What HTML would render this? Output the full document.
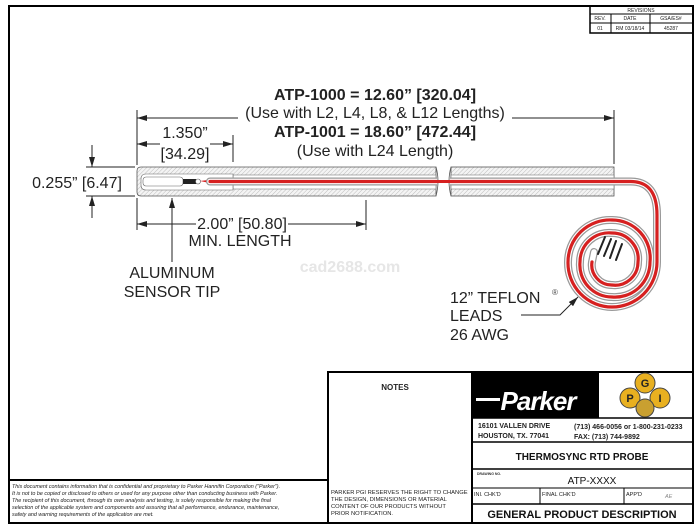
<!DOCTYPE html>
<html><head><meta charset="utf-8"><style>
html,body{margin:0;padding:0;background:#fff}
svg{display:block;font-family:"Liberation Sans",Arial,sans-serif}
</style></head><body>
<svg width="700" height="529" viewBox="0 0 700 529" xmlns="http://www.w3.org/2000/svg">
<defs>
<pattern id="h" width="3" height="3" patternUnits="userSpaceOnUse" patternTransform="rotate(45)">
<rect width="3" height="3" fill="#f4f4f4"/><line x1="0" y1="0" x2="0" y2="3" stroke="#bdbdbd" stroke-width="1"/></pattern>
<marker id="a" viewBox="0 0 10 6" refX="10" refY="3" markerWidth="10" markerHeight="6" orient="auto-start-reverse" markerUnits="userSpaceOnUse"><path d="M0,0L10,3L0,6z" fill="#222"/></marker>
</defs>
<rect width="700" height="529" fill="#fff"/>
<rect x="9" y="6" width="684" height="517" fill="none" stroke="#000" stroke-width="2"/>
<g stroke="#000" stroke-width="1" fill="none">
<rect x="590" y="6" width="103" height="27" stroke-width="1.5"/>
<line x1="590" y1="14" x2="693" y2="14"/><line x1="590" y1="23" x2="693" y2="23"/>
<line x1="611" y1="14" x2="611" y2="33"/><line x1="650" y1="14" x2="650" y2="33"/>
</g>
<g font-size="5" text-anchor="middle" fill="#222">
<text x="641" y="12">REVISIONS</text><text x="600" y="20">REV.</text><text x="630" y="20">DATE</text><text x="671" y="20">GSA/ES#</text>
<text x="600" y="30">01</text><text x="630" y="30">RM 03/18/14</text><text x="671" y="30">45287</text></g>

<path d="M141,167 H436 V196 H141 Q137,196 137,192 V171 Q137,167 141,167z" fill="url(#h)" stroke="#555" stroke-width="0.8"/>
<rect x="451" y="167" width="163" height="29" fill="url(#h)" stroke="#555" stroke-width="0.8"/>
<path d="M233,175 H436 V189 H233z" fill="#fff" stroke="#666" stroke-width="0.6"/>
<path d="M451,175 H614 V189 H451z" fill="#fff" stroke="#666" stroke-width="0.6"/>
<path d="M146,174 H233 V190 H146 Q141,190 141,185 V179 Q141,174 146,174z" fill="#fff" stroke="#666" stroke-width="0.6"/>
<rect x="143" y="177" width="40" height="9" rx="3" fill="#fff" stroke="#666" stroke-width="0.6"/>
<rect x="183" y="179" width="13" height="5" fill="#222"/>
<circle cx="198" cy="181.5" r="2.5" fill="#fff" stroke="#555" stroke-width="0.6"/>
<path d="M200,181 L212,179.5 V183.5z" fill="#d62020"/>
<g fill="none" stroke-linecap="round">
<g id="w">
<path id="wp" d="M210,181.5 H630 Q657,181 657,215 L657,262 A45,45 0 0 1 612,307 A44,44 0 0 1 568,262 A42,42 0 0 1 612,220 A38,38 0 0 1 650,262 A35,35 0 0 1 612,297 A32,32 0 0 1 580,262 A29,29 0 0 1 612,233 A26,26 0 0 1 638,262 A23,23 0 0 1 612,285 A20,20 0 0 1 592,262 L594,252" stroke="#999" stroke-width="8"/>
</g>
<path d="M210,181.5 H630 Q657,181 657,215 L657,262 A45,45 0 0 1 612,307 A44,44 0 0 1 568,262 A42,42 0 0 1 612,220 A38,38 0 0 1 650,262 A35,35 0 0 1 612,297 A32,32 0 0 1 580,262 A29,29 0 0 1 612,233 A26,26 0 0 1 638,262 A23,23 0 0 1 612,285 A20,20 0 0 1 592,262 L594,252" stroke="#fff" stroke-width="5.5"/>
<path d="M210,181.5 H630 Q657,181 657,215 L657,262 A45,45 0 0 1 612,307 A44,44 0 0 1 568,262 A42,42 0 0 1 612,220 A38,38 0 0 1 650,262 A35,35 0 0 1 612,297 A32,32 0 0 1 580,262 A29,29 0 0 1 612,233 A26,26 0 0 1 638,262 A23,23 0 0 1 612,285 A20,20 0 0 1 592,262" stroke="#d62020" stroke-width="3.2"/>
<path d="M598,254 L605,237 M604,256 L611,239 M610,258 L616,241 M616,260 L622,244" stroke="#222" stroke-width="2"/>
</g>
<rect x="437" y="160" width="13" height="42" fill="#fff"/>
<path d="M436,167 Q440,181 436,196 M451,167 Q447,181 451,196" fill="none" stroke="#555" stroke-width="0.8"/>
<path d="M436,181.5 H451" stroke="#d62020" stroke-width="3"/>

<g stroke="#222" stroke-width="1" fill="none">
<line x1="137" y1="110" x2="137" y2="165"/><line x1="614" y1="110" x2="614" y2="164"/>
<line x1="137" y1="118" x2="238" y2="118" marker-start="url(#a)"/>
<line x1="512" y1="118" x2="614" y2="118" marker-end="url(#a)"/>
<line x1="137" y1="144" x2="160" y2="144" marker-start="url(#a)"/>
<line x1="210" y1="144" x2="233" y2="144" marker-end="url(#a)"/>
<line x1="233" y1="135" x2="233" y2="162"/>
<line x1="86" y1="167" x2="135" y2="167"/><line x1="86" y1="196" x2="135" y2="196"/>
<line x1="92" y1="145" x2="92" y2="167" marker-end="url(#a)"/>
<line x1="92" y1="218" x2="92" y2="196" marker-end="url(#a)"/>
<line x1="137" y1="198" x2="137" y2="230"/><line x1="366" y1="200" x2="366" y2="230"/>
<line x1="137" y1="224" x2="196" y2="224" marker-start="url(#a)"/>
<line x1="288" y1="224" x2="366" y2="224" marker-end="url(#a)"/>
<line x1="172" y1="262" x2="172" y2="198" marker-end="url(#a)"/>
<path d="M521,315 H560 L578,297" marker-end="url(#a)"/>
</g>
<g fill="#222" font-size="16" text-anchor="middle">
<text x="375" y="100" font-weight="bold">ATP-1000 = 12.60” [320.04]</text>
<text x="375" y="118">(Use with L2, L4, L8, &amp; L12 Lengths)</text>
<text x="375" y="137" font-weight="bold">ATP-1001 = 18.60” [472.44]</text>
<text x="375" y="156">(Use with L24 Length)</text>
<text x="185" y="138">1.350”</text>
<text x="185" y="159">[34.29]</text>
<text x="242" y="229">2.00” [50.80]</text>
<text x="240" y="246">MIN. LENGTH</text>
<text x="172" y="278">ALUMINUM</text>
<text x="172" y="297">SENSOR TIP</text>
<text x="77" y="188">0.255” [6.47]</text>
<text x="450" y="303" text-anchor="start">12” TEFLON</text>
<text x="450" y="321" text-anchor="start">LEADS</text>
<text x="450" y="340" text-anchor="start">26 AWG</text>
</g>
<text x="552" y="295" font-size="8" fill="#444">®</text>
<text x="350" y="272" font-size="16" font-weight="bold" fill="#e6e6e6" text-anchor="middle">cad2688.com</text>

<g stroke="#000" fill="none">
<rect x="328" y="372" width="365" height="151" stroke-width="2"/>
<line x1="472" y1="372" x2="472" y2="523" stroke-width="2"/>
<rect x="9" y="480" width="319" height="43" stroke-width="2"/>
<line x1="472" y1="418" x2="693" y2="418" stroke-width="1.5"/>
<line x1="472" y1="442" x2="693" y2="442" stroke-width="1.5"/>
<line x1="472" y1="469" x2="693" y2="469" stroke-width="1.5"/>
<line x1="472" y1="488" x2="693" y2="488" stroke-width="1"/>
<line x1="472" y1="504" x2="693" y2="504" stroke-width="1.5"/>
<line x1="540" y1="488" x2="540" y2="504"/><line x1="624" y1="488" x2="624" y2="504"/>
</g>
<rect x="473" y="373" width="126" height="45" fill="#000"/>
<text x="538" y="410" font-size="26" font-weight="bold" fill="#fff" font-style="italic" text-anchor="middle" letter-spacing="-1">Parker</text>
<rect x="476" y="398" width="24" height="3" fill="#fff"/>
<g stroke="#444" stroke-width="1">
<circle cx="645" cy="383" r="10" fill="#e8b020"/>
<circle cx="630" cy="398" r="10" fill="#e8b020"/>
<circle cx="660" cy="398" r="10" fill="#e8b020"/>
<circle cx="645" cy="408" r="9" fill="#c9a030"/>
</g>
<g font-size="11" font-weight="bold" fill="#222" text-anchor="middle"><text x="645" y="387">G</text><text x="630" y="402">P</text><text x="660" y="402">I</text></g>
<g font-size="7" font-weight="bold" fill="#222">
<text x="478" y="428">16101 VALLEN DRIVE</text><text x="478" y="438">HOUSTON, TX. 77041</text>
<text x="574" y="429">(713) 466-0056 or 1-800-231-0233</text><text x="574" y="439">FAX: (713) 744-9892</text>
</g>
<text x="582" y="460" font-size="10" font-weight="bold" text-anchor="middle" fill="#111">THERMOSYNC RTD PROBE</text>
<text x="477" y="475" font-size="3.5" font-weight="bold" fill="#333">DRAWING NO.</text>
<text x="592" y="484" font-size="10" text-anchor="middle" fill="#111">ATP-XXXX</text>
<g font-size="5.5" fill="#222"><text x="474" y="496">INI. CHK'D</text><text x="542" y="496">FINAL CHK'D</text><text x="626" y="496">APP'D</text><text x="665" y="498" font-style="italic" fill="#888">AE</text></g>
<text x="582" y="518" font-size="11" font-weight="bold" text-anchor="middle" fill="#111">GENERAL PRODUCT DESCRIPTION</text>
<text x="395" y="390" font-size="8" font-weight="bold" text-anchor="middle" fill="#222">NOTES</text>
<g font-size="5.8" fill="#222"><text x="331" y="494">PARKER PGI RESERVES THE RIGHT TO CHANGE</text><text x="331" y="501">THE DESIGN, DIMENSIONS OR MATERIAL</text><text x="331" y="508">CONTENT OF OUR PRODUCTS WITHOUT</text><text x="331" y="515">PRIOR NOTIFICATION.</text></g>
<g font-size="5.4" font-style="italic" fill="#222">
<text x="12" y="488">This document contains information that is confidential and proprietary to Parker Hannifin Corporation ("Parker").</text>
<text x="12" y="495">It is not to be copied or disclosed to others or used for any purpose other than conducting business with Parker.</text>
<text x="12" y="502">The recipient of this document, through its own analysis and testing, is solely responsible for making the final</text>
<text x="12" y="509">selection of the applicable system and components and assuring that all performance, endurance, maintenance,</text>
<text x="12" y="516">safety and warning requirements of the application are met.</text>
</g>
</svg>
</body></html>
